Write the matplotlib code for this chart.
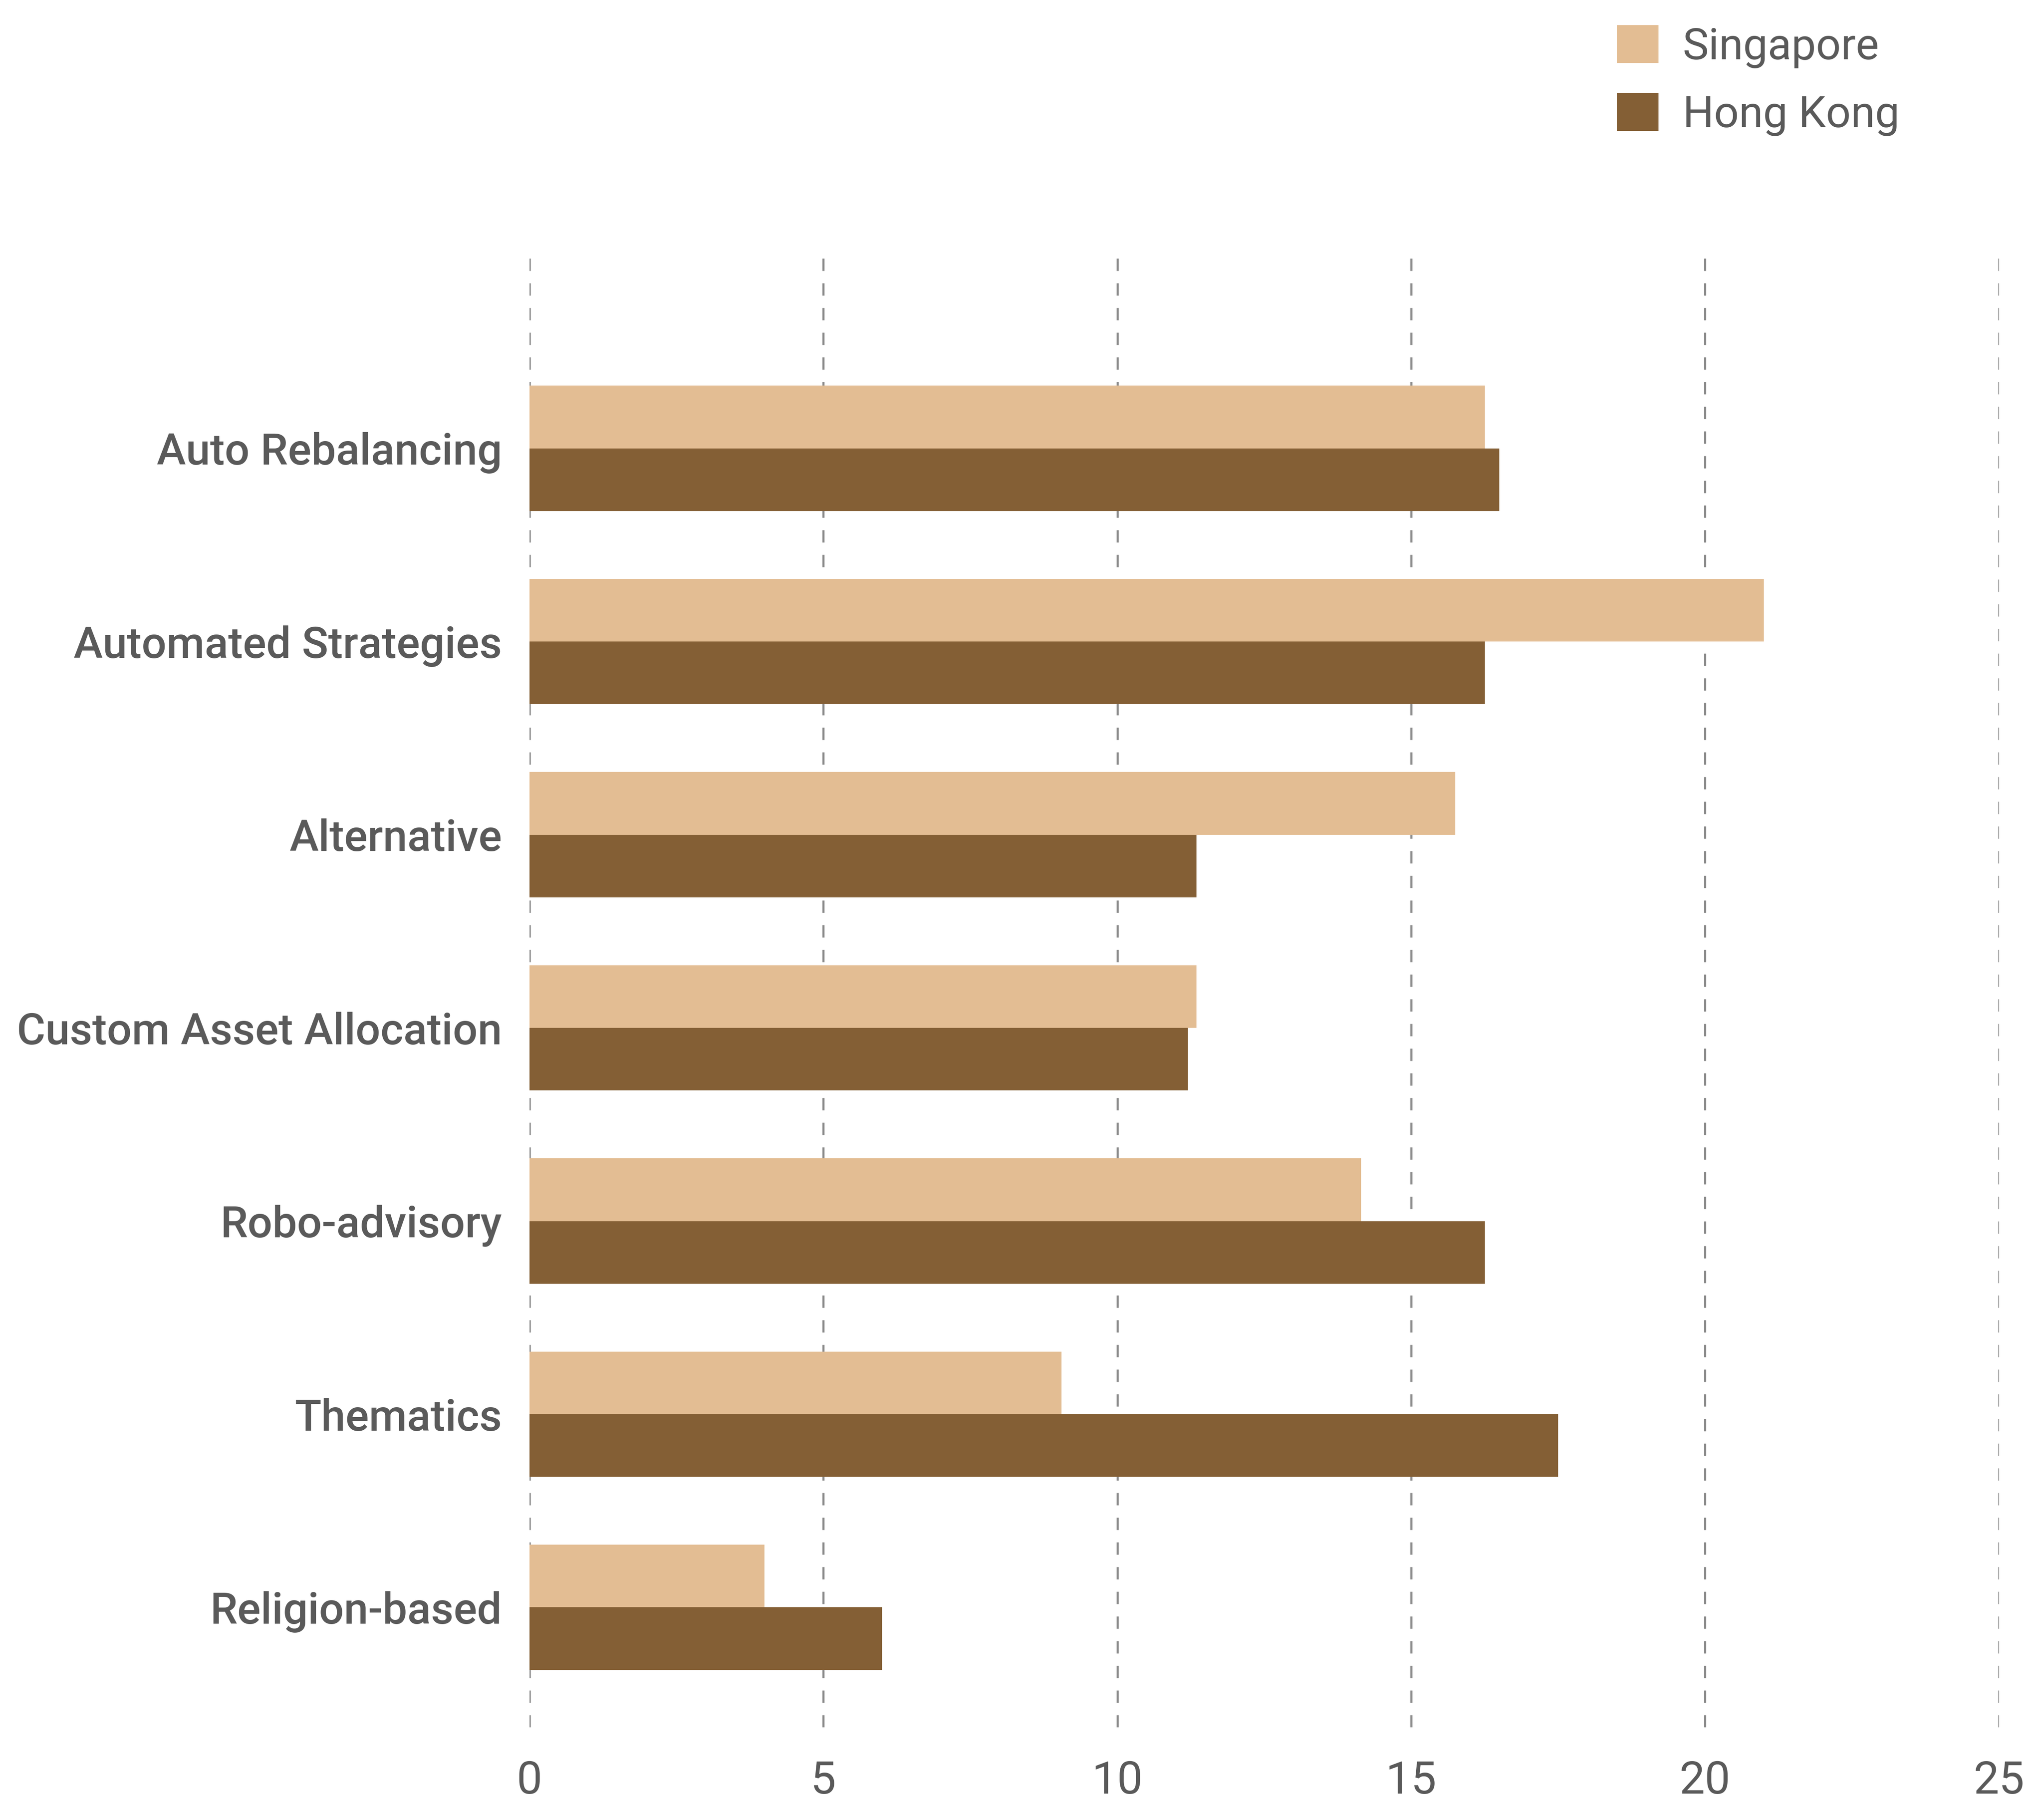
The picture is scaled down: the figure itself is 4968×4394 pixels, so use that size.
import numpy as np
import matplotlib.pyplot as plt

categorias = ['Auto Rebalancing', 'Automated Strategies', 'Alternative',
              'Custom Asset Allocation', 'Robo-advisory', 'Thematics',
              'Religion-based']
singapore = [16.25, 21.0, 15.75, 11.35, 14.15, 9.05, 4.0]
hong_kong = [16.5, 16.25, 11.35, 11.2, 16.25, 17.5, 6.0]
ticks_x = [0, 5, 10, 15, 20, 25]

cor_sg = '#E3BD93'
cor_hk = '#845F35'
cor_texto = '#5A5A5A'

plt.rcParams['font.family'] = ['Roboto', 'DejaVu Sans']

fig = plt.figure(figsize=(16.56, 14.647), dpi=300)
ax = fig.add_axes([0.259, 0.0447, 0.719, 0.8147])

y = np.arange(len(categorias))
h = 0.324
ax.barh(y - h / 2, singapore, height=h, color=cor_sg, label='Singapore', zorder=2)
ax.barh(y + h / 2, hong_kong, height=h, color=cor_hk, label='Hong Kong', zorder=2)

ax.set_xlim(0, 25)
ax.set_ylim(6.62, -1.005)
ax.set_xticks(ticks_x)
ax.set_xticklabels([str(t) for t in ticks_x])
ax.set_yticks(y)
ax.set_yticklabels(categorias, fontweight='medium')

ax.tick_params(axis='x', length=0, pad=19, labelsize=26.5, labelcolor=cor_texto)
ax.tick_params(axis='y', length=0, pad=16, labelsize=25.5, labelcolor=cor_texto)
ax.grid(axis='x', linestyle=(0, (6, 6)), color='#888888', linewidth=1.2, zorder=1)
ax.grid(axis='y', visible=False)
for s in ax.spines.values():
    s.set_visible(False)

fig.legend(loc='upper left', bbox_to_anchor=(0.791, 0.986), frameon=False,
           fontsize=25.5, labelcolor=cor_texto, handlelength=0.95, handleheight=0.95,
           handletextpad=0.56, labelspacing=0.57, borderpad=0, borderaxespad=0)

plt.savefig('out.png', dpi=300)
